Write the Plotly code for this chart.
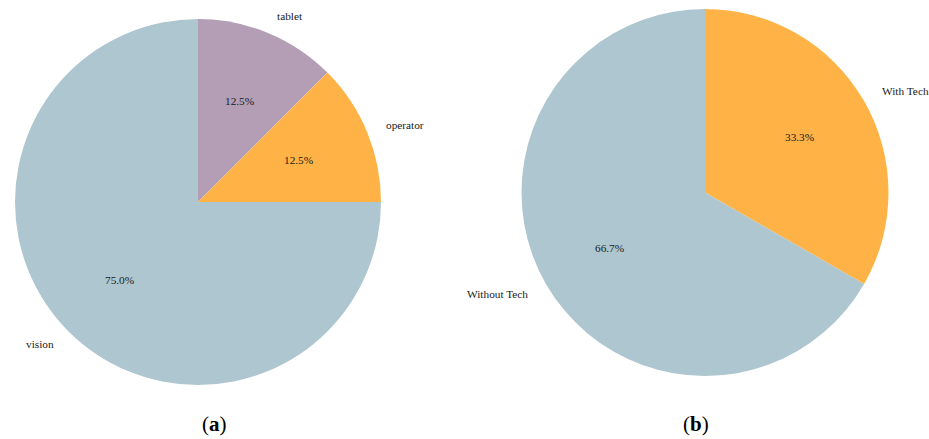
import math
import plotly.graph_objects as go

# Panel (a): share of assistance sources
labels_a = ["tablet", "operator", "vision"]
values_a = [12.5, 12.5, 75.0]
colors_a = ["#B39EB5", "#FFB347", "#AEC6CF"]

# Panel (b): with / without technology
labels_b = ["With Tech", "Without Tech"]
values_b = [33.3, 66.7]
colors_b = ["#FFB347", "#AEC6CF"]

captions = ["a", "b"]

W, H = 929, 439
TEXT_FONT = dict(family="Liberation Serif, Times New Roman, serif", size=11.3, color="#1a1a1a")

# Pie geometry in pixels: centre x, centre y, radius
geom = [(198.0, 202.0, 183.0), (705.0, 192.5, 183.5)]


def domain_for(cx, cy, r):
    return dict(
        x=[(cx - r) / W, (cx + r) / W],
        y=[1 - (cy + r) / H, 1 - (cy - r) / H],
    )


fig = go.Figure()
annotations = []

panels = [(labels_a, values_a, colors_a), (labels_b, values_b, colors_b)]
for (labels, values, colors), (cx, cy, r), cap in zip(panels, geom, captions):
    fig.add_trace(go.Pie(
        labels=labels,
        values=values,
        marker=dict(colors=colors, line=dict(width=0)),
        sort=False,
        direction="clockwise",
        rotation=0,
        textinfo="none",
        hoverinfo="label+percent",
        domain=domain_for(cx, cy, r),
        showlegend=False,
    ))

    total = sum(values)
    cum = 0.0
    for lab, v in zip(labels, values):
        mid = (cum + v / 2) / total
        cum += v
        theta = math.radians(90 - 360 * mid)
        c, s = math.cos(theta), math.sin(theta)
        # percentage inside the wedge
        px, py = cx + 0.6 * r * c, cy - 0.6 * r * s
        annotations.append(dict(
            x=px / W, y=1 - py / H, xref="paper", yref="paper",
            text=f"{100 * v / total:.1f}%", showarrow=False,
            xanchor="center", yanchor="middle", font=TEXT_FONT,
        ))
        # category label just outside the rim
        lx, ly = cx + 1.1 * r * c, cy - 1.1 * r * s
        annotations.append(dict(
            x=lx / W, y=1 - ly / H, xref="paper", yref="paper",
            text=lab, showarrow=False,
            xanchor="left" if c > 0 else "right", yanchor="middle",
            font=TEXT_FONT,
        ))

# panel captions
for cap, xc in zip(captions, [214, 696]):
    annotations.append(dict(
        x=xc / W, y=1 - 424 / H, xref="paper", yref="paper",
        text=f"(<b>{cap}</b>)", showarrow=False,
        xanchor="center", yanchor="middle",
        font=dict(family="Liberation Serif, Times New Roman, serif", size=21, color="#000000"),
    ))

fig.update_layout(
    width=W, height=H,
    margin=dict(l=0, r=0, t=0, b=0),
    paper_bgcolor="white",
    plot_bgcolor="white",
    annotations=annotations,
)

fig.write_html("out.html")
